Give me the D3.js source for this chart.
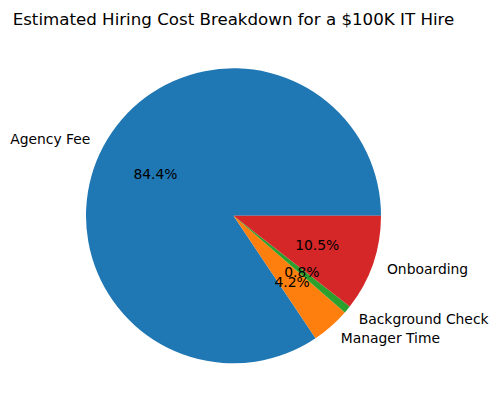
<!DOCTYPE html>
<html>
<head>
<meta charset="utf-8">
<script src="https://cdn.jsdelivr.net/npm/d3@7"></script>
<style>
  body { margin: 0; background: #fff; }
  text { font-family: "DejaVu Sans", sans-serif; fill: #000; }
</style>
</head>
<body>
<svg id="chart" width="499" height="411"></svg>
<script>
const categories = ["Agency Fee", "Manager Time", "Background Check", "Onboarding"];
const costs = [20000, 1000, 200, 2500];
const colors = ["#1f77b4", "#ff7f0e", "#2ca02c", "#d62728"];

const width = 499, height = 411;
const cx = 233.5, cy = 215.8, radius = 147.5;

const svg = d3.select("#chart");

svg.append("text")
    .attr("x", cx)
    .attr("y", 24.5)
    .attr("text-anchor", "middle")
    .attr("font-size", "16.67px")
    .text("Estimated Hiring Cost Breakdown for a $100K IT Hire");

const total = d3.sum(costs);

// matplotlib style: start at 3 o'clock and go counter-clockwise
const pie = d3.pie()
    .sort(null)
    .startAngle(Math.PI / 2)
    .endAngle(Math.PI / 2 - 2 * Math.PI);

const arcs = pie(costs);
const arc = d3.arc().innerRadius(0).outerRadius(radius);

const g = svg.append("g").attr("transform", `translate(${cx},${cy})`);

g.selectAll("path")
    .data(arcs)
    .enter()
    .append("path")
    .attr("d", arc)
    .attr("fill", (d, i) => colors[i]);

// mid angle in d3 convention (clockwise from 12 o'clock)
const mid = d => (d.startAngle + d.endAngle) / 2;

g.selectAll("text.label")
    .data(arcs)
    .enter()
    .append("text")
    .attr("class", "label")
    .attr("x", d => 1.1 * radius * Math.sin(mid(d)))
    .attr("y", d => -1.1 * radius * Math.cos(mid(d)))
    .attr("text-anchor", d => Math.sin(mid(d)) > 0 ? "start" : "end")
    .attr("dominant-baseline", "central")
    .attr("font-size", "13.89px")
    .text((d, i) => categories[i]);

g.selectAll("text.pct")
    .data(arcs)
    .enter()
    .append("text")
    .attr("class", "pct")
    .attr("x", d => 0.6 * radius * Math.sin(mid(d)))
    .attr("y", d => -0.6 * radius * Math.cos(mid(d)))
    .attr("text-anchor", "middle")
    .attr("dominant-baseline", "central")
    .attr("font-size", "13.89px")
    .text(d => (d.value / total * 100).toFixed(1) + "%");
</script>
</body>
</html>
